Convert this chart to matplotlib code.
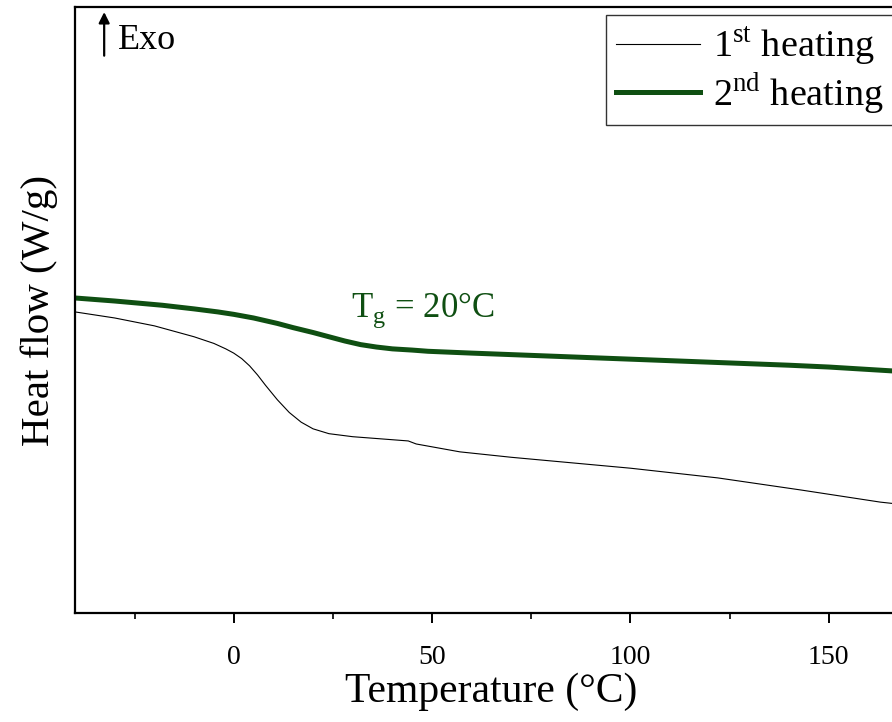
import numpy as np
import matplotlib
matplotlib.use("Agg")
import matplotlib.pyplot as plt
from matplotlib.ticker import MultipleLocator

plt.rcParams["font.family"] = ["Liberation Serif", "DejaVu Serif"]
plt.rcParams["mathtext.fontset"] = "custom"
plt.rcParams["mathtext.rm"] = "Liberation Serif"

# DSC traces (arbitrary heat-flow units, exo up)
temp_1st = [-40, -30, -20, -10, -5, -2, 0, 2, 4, 6, 8, 11, 14, 17, 20, 24,
            30, 40, 44, 46, 57, 70, 100, 122, 143, 163, 170]
flow_1st = [4.97, 4.87, 4.74, 4.56, 4.45, 4.36, 4.29, 4.20, 4.08, 3.93, 3.76,
            3.52, 3.31, 3.15, 3.04, 2.96, 2.91, 2.86, 2.84, 2.79, 2.66, 2.57,
            2.39, 2.23, 2.03, 1.83, 1.78]

temp_2nd = [-40, -30, -18, -10, -4, 0, 5, 11, 15, 20, 24, 28, 32, 36, 40, 45,
            49, 60, 80, 100, 120, 140, 150, 170]
flow_2nd = [5.20, 5.15, 5.08, 5.02, 4.97, 4.93, 4.87, 4.78, 4.71, 4.63, 4.56,
            4.49, 4.43, 4.39, 4.36, 4.34, 4.32, 4.29, 4.24, 4.19, 4.14, 4.09,
            4.06, 3.98]

labels = [r"1$^{\rm st}$ heating", r"2$^{\rm nd}$ heating"]
tg_label = r"T$_{\rm g}$ = 20°C"

GREEN = "#0f4f12"

fig = plt.figure(figsize=(8.92, 7.22), dpi=100)
ax = fig.add_axes([0.0841, 0.151, 0.934, 0.839])

ax.plot(temp_1st, flow_1st, color="black", lw=0.8, label=labels[0])
ax.plot(temp_2nd, flow_2nd, color=GREEN, lw=3.6, label=labels[1])

ax.set_xlim(-40, 170)
ax.set_ylim(0, 10)

ax.xaxis.set_major_locator(MultipleLocator(50))
ax.xaxis.set_minor_locator(MultipleLocator(25))
ax.tick_params(axis="x", which="major", direction="out", length=7, width=1.4,
               labelsize=20, pad=16)
ax.tick_params(axis="x", which="minor", direction="out", length=4, width=1.2)
ax.set_yticks([])
for side in ["left", "bottom", "top", "right"]:
    ax.spines[side].set_linewidth(1.6)

ax.set_xlabel("Temperature (°C)", fontsize=30, labelpad=2)
ax.set_ylabel("Heat flow (W/g)", fontsize=29.5, labelpad=12)

ax.text(29.5, 4.88, tg_label, color=GREEN, fontsize=25, ha="left",
        va="baseline")

# Exo arrow
ax.annotate("", xy=(0.035, 0.992), xytext=(0.035, 0.92),
            xycoords="axes fraction",
            arrowprops=dict(arrowstyle="-|>", lw=1.6, color="black",
                            mutation_scale=16, shrinkA=0, shrinkB=0))
ax.text(0.051, 0.945, "Exo", transform=ax.transAxes, fontsize=26,
        ha="left", va="center")

leg = ax.legend(loc="upper left", bbox_to_anchor=(606 / 892, 1 - 15 / 722),
                bbox_transform=fig.transFigure, fontsize=27.5, frameon=True,
                fancybox=False, edgecolor="black", handlelength=2.2,
                handletextpad=0.35, labelspacing=0.05, borderpad=0.25,
                borderaxespad=0)
leg.get_frame().set_linewidth(1.0)

fig.savefig("out.png", dpi=100)
